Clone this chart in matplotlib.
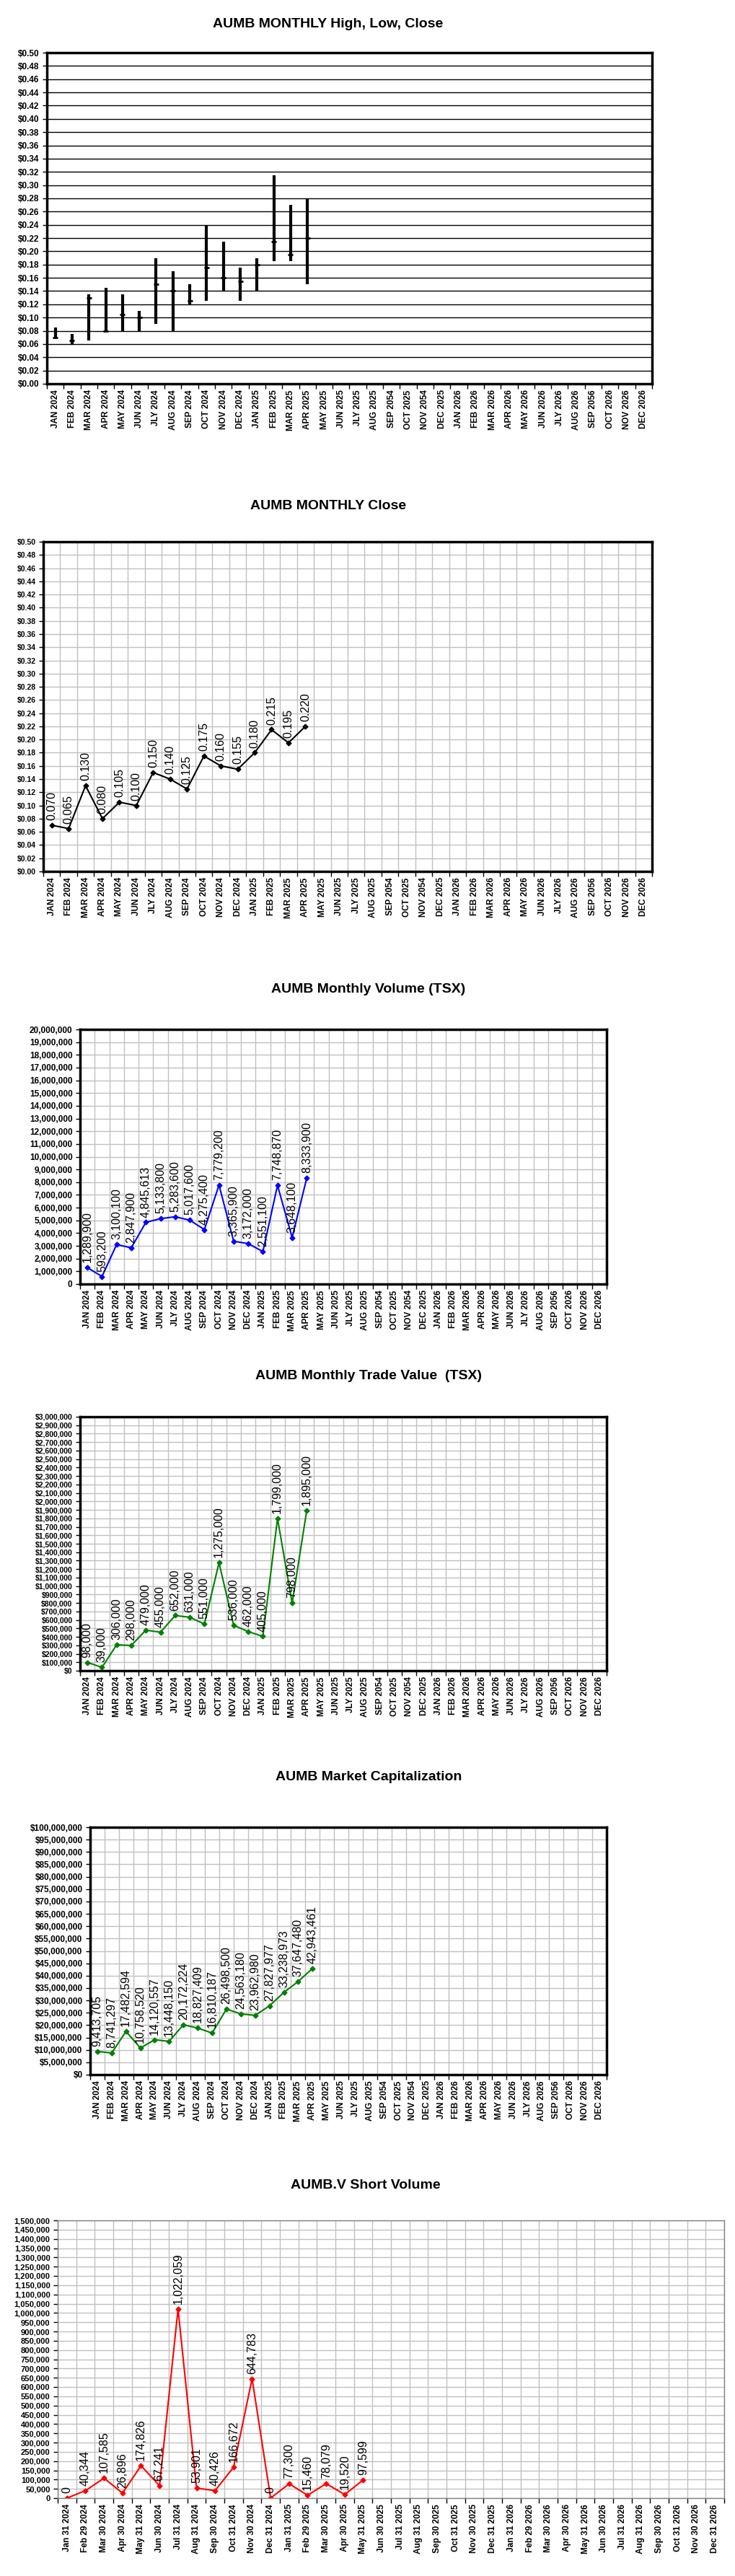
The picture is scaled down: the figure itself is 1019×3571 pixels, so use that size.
import matplotlib
matplotlib.use("Agg")
import matplotlib.pyplot as plt
import numpy as np
from matplotlib.ticker import FuncFormatter, MultipleLocator

plt.rcParams["font.family"] = "Liberation Sans"

months = ["JAN 2024", "FEB 2024", "MAR 2024", "APR 2024", "MAY 2024", "JUN 2024", "JLY 2024", "AUG 2024",
          "SEP 2024", "OCT 2024", "NOV 2024", "DEC 2024", "JAN 2025", "FEB 2025", "MAR 2025", "APR 2025",
          "MAY 2025", "JUN 2025", "JLY 2025", "AUG 2025", "SEP 2054", "OCT 2025", "NOV 2054", "DEC 2025",
          "JAN 2026", "FEB 2026", "MAR 2026", "APR 2026", "MAY 2026", "JUN 2026", "JLY 2026", "AUG 2026",
          "SEP 2056", "OCT 2026", "NOV 2026", "DEC 2026"]
short_dates = ["Jan 31 2024", "Feb 29 2024", "Mar 30 2024", "Apr 30 2024", "May 31 2024", "Jun 30 2024",
               "Jul 31 2024", "Aug 31 2024", "Sep 30 2024", "Oct 31 2024", "Nov 30 2024", "Dec 31 2024",
               "Jan 31 2025", "Feb 29 2025", "Mar 30 2025", "Apr 30 2025", "May 31 2025", "Jun 30 2025",
               "Jul 31 2025", "Aug 31 2025", "Sep 30 2025", "Oct 31 2025", "Nov 30 2025", "Dec 31 2025",
               "Jan 31 2026", "Feb 29 2026", "Mar 30 2026", "Apr 30 2026", "May 31 2026", "Jun 30 2026",
               "Jul 31 2026", "Aug 31 2026", "Sep 30 2026", "Oct 31 2026", "Nov 30 2026", "Dec 31 2026"]

high = [0.085, 0.075, 0.135, 0.145, 0.135, 0.110, 0.190, 0.170, 0.150, 0.240, 0.215, 0.175, 0.190, 0.315, 0.270, 0.280]
low = [0.070, 0.060, 0.065, 0.080, 0.080, 0.080, 0.090, 0.080, 0.120, 0.125, 0.140, 0.125, 0.140, 0.185, 0.185, 0.150]
close = [0.070, 0.065, 0.130, 0.080, 0.105, 0.100, 0.150, 0.140, 0.125, 0.175, 0.160, 0.155, 0.180, 0.215, 0.195, 0.220]
volume = [1289900, 593200, 3100100, 2847900, 4845613, 5133800, 5283600, 5017600, 4275400, 7779200,
          3365900, 3172000, 2551100, 7748870, 3648100, 8333900]
trade_value = [98000, 39000, 306000, 298000, 479000, 455000, 652000, 631000, 551000, 1275000,
               536000, 462000, 405000, 1799000, 798000, 1895000]
market_cap = [9413705, 8741297, 17482594, 10758520, 14120557, 13448150, 20172224, 18827409, 16810187,
              26498500, 24563180, 23962980, 27827977, 33238973, 37647480, 42943461]
short_volume = [0, 40344, 107585, 26896, 174826, 67241, 1022059, 53901, 40426, 166672, 644783, 0,
                77300, 15460, 78079, 19520, 97599]

W, H = 1020, 3571
fig = plt.figure(figsize=(W / 100, H / 100), dpi=100)


def make_ax(left, right, top, bottom):
    return fig.add_axes([left / W, 1 - bottom / H, (right - left) / W, (bottom - top) / H])


def setup(ax, labels, ymax, ystep, fmt, grid_vert=True, thick=True, ysize=8.5, xsize=8.5):
    n = len(labels)
    ax.set_xlim(-0.5, n - 0.5)
    ax.set_ylim(0, ymax)
    ax.set_xticks(np.arange(n))
    ax.set_xticklabels(labels, rotation=90, fontsize=xsize, fontweight="bold")
    ax.tick_params(axis="x", length=0, pad=6)
    ax.set_xticks(np.arange(n + 1) - 0.5, minor=True)
    ax.tick_params(axis="x", which="minor", length=5, width=1, direction="out")
    ax.yaxis.set_major_locator(MultipleLocator(ystep))
    ax.yaxis.set_major_formatter(FuncFormatter(fmt))
    ax.tick_params(axis="y", labelsize=ysize, length=4, width=1)
    for t in ax.get_yticklabels():
        t.set_fontweight("bold")
    if grid_vert:
        ax.grid(True, which="minor", axis="x", color="#c0c0c0", lw=1)
        ax.grid(True, which="major", axis="y", color="#c0c0c0", lw=1)
    ax.set_axisbelow(True)
    for s in ax.spines.values():
        s.set_linewidth(2.5 if thick else 1)
        s.set_color("black" if thick else "#808080")


def labels_on(ax, xs, ys, texts, size=11.5):
    for x, y, t in zip(xs, ys, texts):
        ax.annotate(t, (x, y), xytext=(0, 5), textcoords="offset points", rotation=90,
                    ha="center", va="bottom", fontsize=size)


# Chart 1: High Low Close
ax1 = make_ax(65, 904, 73, 532)
setup(ax1, months, 0.50, 0.02, lambda v, p: f"${v:.2f}", grid_vert=False)
ax1.grid(True, axis="y", which="major", color="black", lw=1)
x = np.arange(len(close))
ax1.vlines(x, low, high, color="black", lw=3)
ax1.hlines(close, x - 0.15, x + 0.15, color="black", lw=2)
fig.text(455 / W, 1 - 33 / H, "AUMB MONTHLY High, Low, Close", ha="center", va="center", fontsize=14, fontweight="bold")

# Chart 2: Close
ax2 = make_ax(60, 904, 751, 1208)
setup(ax2, months, 0.50, 0.02, lambda v, p: f"${v:.2f}", ysize=7.5)
ax2.plot(x, close, color="black", lw=1.5, marker="D", ms=3.5)
labels_on(ax2, x, close, [f"{c:.3f}" for c in close])
fig.text(455 / W, 1 - 702 / H, "AUMB MONTHLY Close", ha="center", va="center", fontsize=14, fontweight="bold")

# Chart 3: Volume
ax3 = make_ax(111, 841, 1427, 1780)
setup(ax3, months, 20000000, 1000000, lambda v, p: f"{int(v):,}")
ax3.plot(x, volume, color="blue", lw=1.5, marker="D", ms=3.5)
labels_on(ax3, x, volume, [f"{v:,}" for v in volume])
fig.text(511 / W, 1 - 1372 / H, "AUMB Monthly Volume (TSX)", ha="center", va="center", fontsize=14, fontweight="bold")

# Chart 4: Trade value
ax4 = make_ax(111, 841, 1964, 2316)
setup(ax4, months, 3000000, 100000, lambda v, p: f"${int(v):,}", ysize=7.5)
ax4.plot(x, trade_value, color="green", lw=1.5, marker="D", ms=3.5)
labels_on(ax4, x, trade_value, [f"{v:,}" for v in trade_value])
fig.text(511 / W, 1 - 1908 / H, "AUMB Monthly Trade Value  (TSX)", ha="center", va="center", fontsize=14, fontweight="bold")

# Chart 5: Market cap
ax5 = make_ax(125, 841, 2533, 2876)
setup(ax5, months, 100000000, 5000000, lambda v, p: f"${int(v):,}")
ax5.plot(x, market_cap, color="green", lw=1.5, marker="D", ms=3.5)
labels_on(ax5, x, market_cap, [f"{v:,}" for v in market_cap])
fig.text(511 / W, 1 - 2464 / H, "AUMB Market Capitalization", ha="center", va="center", fontsize=14, fontweight="bold")

# Chart 6: Short volume
ax6 = make_ax(80, 1004, 3078, 3463)
setup(ax6, short_dates, 1500000, 50000, lambda v, p: f"{int(v):,}", thick=False, ysize=8)
xs = np.arange(len(short_volume))
ax6.plot(xs, short_volume, color="red", lw=1.5, marker="D", ms=3.5)
labels_on(ax6, xs, short_volume, [f"{v:,}" for v in short_volume])
fig.text(507 / W, 1 - 3030 / H, "AUMB.V Short Volume", ha="center", va="center", fontsize=14, fontweight="bold")

fig.savefig("out.png", dpi=100, facecolor="white")
